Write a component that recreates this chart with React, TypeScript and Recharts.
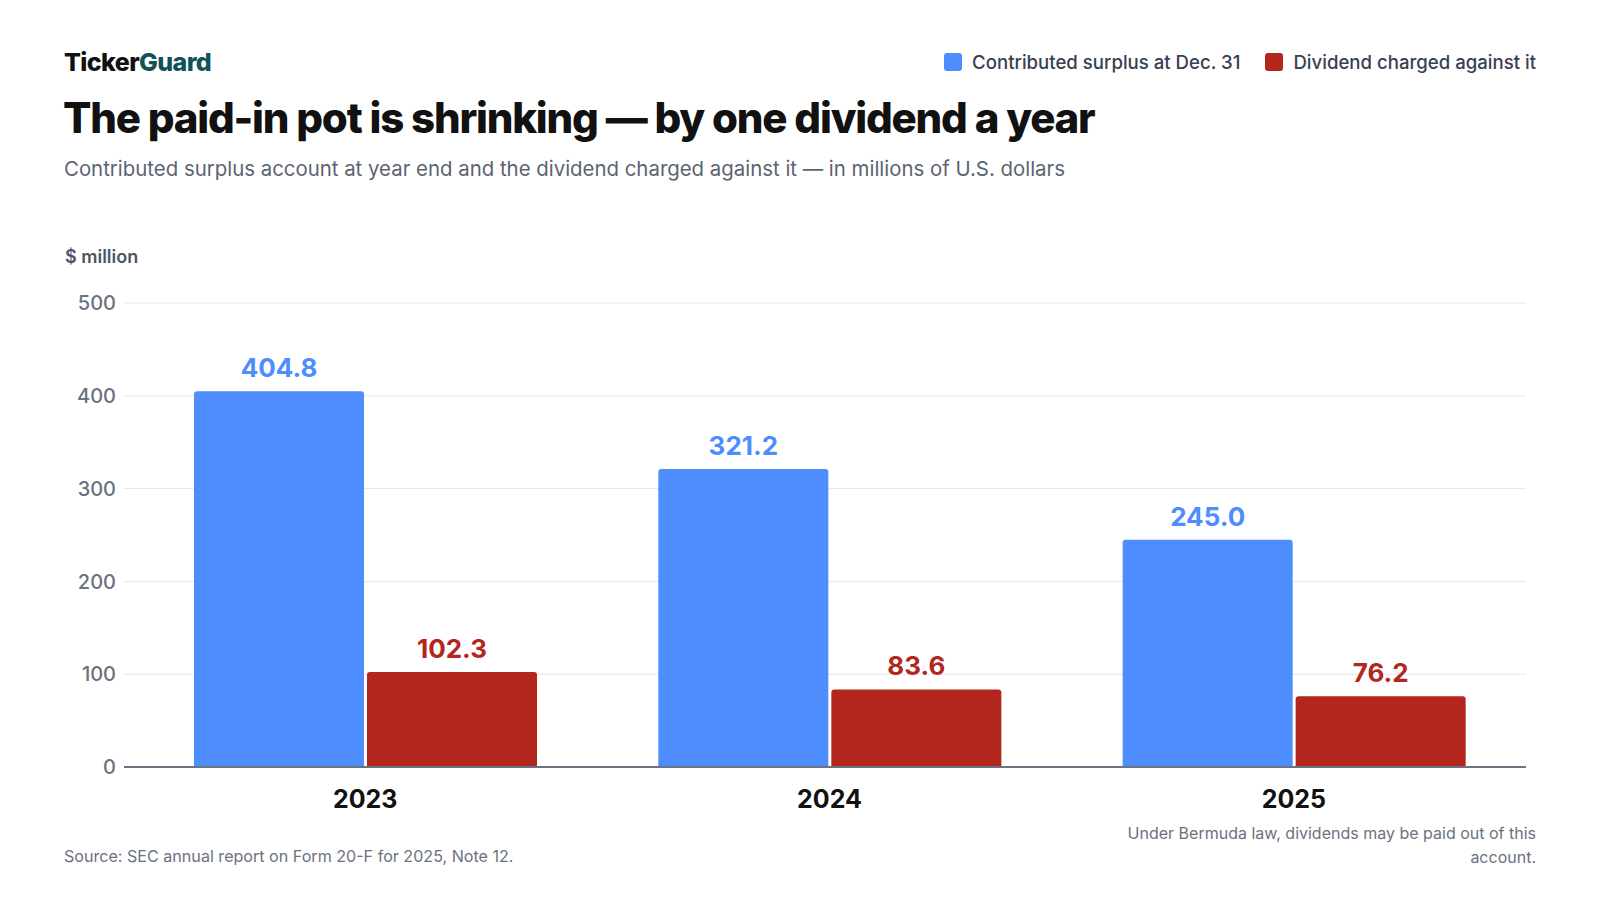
import React from 'react';
import { BarChart, Bar, XAxis, YAxis, CartesianGrid, LabelList } from 'recharts';

const years = ['2023', '2024', '2025'];
const surplus = [404.8, 321.2, 245.0];
const dividend = [102.3, 83.6, 76.2];
const yTicks = [0, 100, 200, 300, 400, 500];

const BLUE = '#4d8dfd';
const RED = '#b3261e';
const FONT = 'Inter, "Noto Sans", sans-serif';

const data = years.map((year, i) => ({
  year,
  surplus: surplus[i],
  dividend: dividend[i],
}));

const legendItems = [
  { label: 'Contributed surplus at Dec. 31', color: BLUE },
  { label: 'Dividend charged against it', color: RED },
];

function LegendBox() {
  return (
    <div style={{ position: 'absolute', right: 64, top: 51, display: 'flex', gap: 25, alignItems: 'center' }}>
      {legendItems.map((item) => (
        <div key={item.label} style={{ display: 'flex', alignItems: 'center', gap: 10 }}>
          <span style={{ width: 18, height: 18, borderRadius: 3, background: item.color, display: 'inline-block' }} />
          <span style={{ fontSize: 18.6, fontWeight: 500, color: '#374151' }}>{item.label}</span>
        </div>
      ))}
    </div>
  );
}

function YearTick(props: any) {
  const { x, y, payload } = props;
  return (
    <text x={x} y={y + 33} textAnchor="middle" fontSize={25} fontWeight={700} fill="#111111" fontFamily={FONT}>
      {payload.value}
    </text>
  );
}

export default function App() {
  return (
    <div style={{ position: 'absolute', left: 0, top: 0, width: 1600, height: 900, background: '#fff', fontFamily: FONT, overflow: 'hidden' }}>
      <BarChart
        width={1600}
        height={900}
        data={data}
        margin={{ top: 303, right: 74, bottom: 73, left: 0 }}
        barGap={3}
        barSize={170}
      >
        <CartesianGrid vertical={false} stroke="#e5e7eb" strokeWidth={1} />
        <YAxis
          width={124}
          domain={[0, 500]}
          ticks={yTicks}
          axisLine={false}
          tickLine={false}
          tickMargin={2}
          tick={{ fontSize: 20, fill: '#6b7280', fontFamily: FONT, fontWeight: 500 }}
        />
        <XAxis
          dataKey="year"
          height={60}
          padding={{ left: 9, right: 0 }}
          axisLine={{ stroke: '#6b7280', strokeWidth: 2 }}
          tickLine={false}
          tick={<YearTick />}
        />
        <Bar dataKey="surplus" name="Contributed surplus at Dec. 31" fill={BLUE} radius={[3, 3, 0, 0]} isAnimationActive={false}>
          <LabelList
            dataKey="surplus"
            position="top"
            offset={14}
            formatter={(v: any) => Number(v).toFixed(1)}
            style={{ fontSize: 26, fontWeight: 700, fill: BLUE, fontFamily: FONT }}
          />
        </Bar>
        <Bar dataKey="dividend" name="Dividend charged against it" fill={RED} radius={[3, 3, 0, 0]} isAnimationActive={false}>
          <LabelList
            dataKey="dividend"
            position="top"
            offset={14}
            formatter={(v: any) => Number(v).toFixed(1)}
            style={{ fontSize: 26, fontWeight: 700, fill: RED, fontFamily: FONT }}
          />
        </Bar>
      </BarChart>

      <LegendBox />
      <div style={{ position: 'absolute', left: 64, top: 47, fontSize: 25, fontWeight: 800, letterSpacing: -0.6, color: '#111111' }}>
        Ticker<span style={{ color: '#0f5257' }}>Guard</span>
      </div>
      <div style={{ position: 'absolute', left: 63, top: 92, fontSize: 42, fontWeight: 800, letterSpacing: -1.2, color: '#111111', whiteSpace: 'nowrap' }}>
        The paid-in pot is shrinking — by one dividend a year
      </div>
      <div style={{ position: 'absolute', left: 64, top: 156, fontSize: 20.4, color: '#5b6472', whiteSpace: 'nowrap' }}>
        Contributed surplus account at year end and the dividend charged against it — in millions of U.S. dollars
      </div>
      <div style={{ position: 'absolute', left: 65, top: 246, fontSize: 18, fontWeight: 600, color: '#4b5563' }}>
        $ million
      </div>
      <div style={{ position: 'absolute', left: 64, top: 846, fontSize: 16.1, color: '#6b7280' }}>
        Source: SEC annual report on Form 20-F for 2025, Note 12.
      </div>
      <div style={{ position: 'absolute', right: 64, top: 822, width: 440, textAlign: 'right', fontSize: 16, lineHeight: '23.5px', color: '#6b7280' }}>
        Under Bermuda law, dividends may be paid out of this account.
      </div>
    </div>
  );
}
